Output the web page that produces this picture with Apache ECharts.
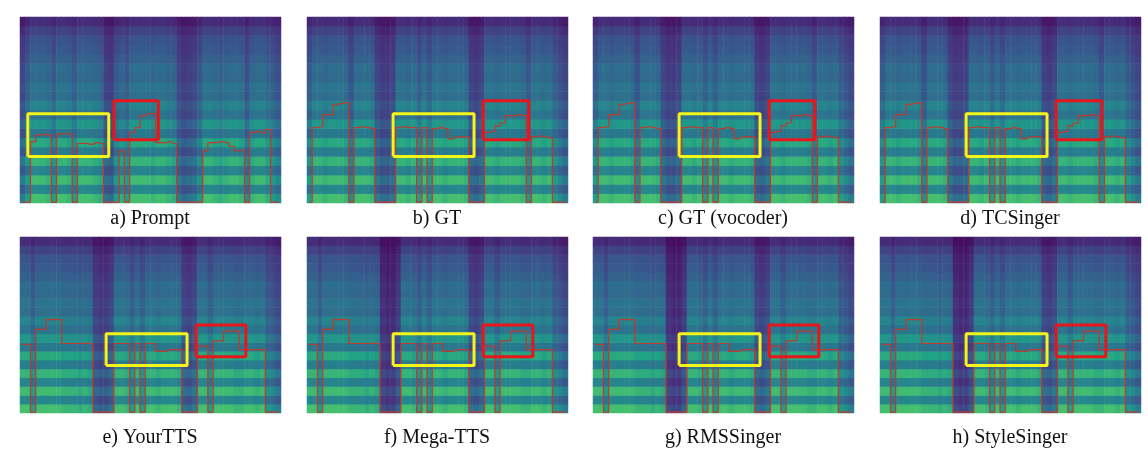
<!DOCTYPE html>
<html><head><meta charset="utf-8">
<script src="https://cdn.jsdelivr.net/npm/echarts@6/dist/echarts.min.js"></script>
<style>html,body{margin:0;background:#fff}#main{width:1148px;height:458px}</style>
</head><body><div id="main"></div>
<script>
// panel captions
var labels = ['a) Prompt', 'b) GT', 'c) GT (vocoder)', 'd) TCSinger', 'e) YourTTS', 'f) Mega-TTS', 'g) RMSSinger', 'h) StyleSinger'];
// spectral energy by frequency row, bottom -> top
var rowLevel = [0.9,0.6,0.88,0.58,0.84,0.55,0.78,0.52,0.68,0.5,0.58,0.47,0.5,0.44,0.46,0.4,0.36,0.34,0.26,0.16];
// per-column loudness (50 frames)
var colPrompt = [0.6,0.8,1,1,1,0.95,0.8,1,1,0.95,0.8,1,1,1,0.95,0.9,0.55,0.5,0.8,0.9,0.8,1,1,1,1,0.95,1,1,0.95,0.9,0.6,0.5,0.55,0.6,0.75,1,1,0.95,0.9,0.95,1,1,0.95,0.7,0.95,1,1,0.9,0.8,0.7];
var colGT = [0.8,1,1,0.95,1,1,1,0.95,0.7,1,1,1,0.95,0.6,0.5,0.5,0.55,1,1,0.95,1,0.8,1,0.8,1,1,0.95,1,1,1,0.95,0.55,0.5,0.6,1,1,0.95,1,1,1,1,0.95,0.75,1,1,0.95,1,0.8,0.7,0.6];
var colYour = [1,1,0.8,1,1,1,1,1,0.95,0.95,0.95,0.9,0.95,0.9,0.5,0.45,0.45,0.55,1,1,0.95,0.8,1,0.8,1,1,0.95,1,1,1,0.95,0.55,0.5,0.6,1,1,0.8,1,1,1,1,0.95,0.95,1,1,0.95,1,0.75,0.7,0.6];
var colMega = [1,1,0.8,1,1,1,1,1,0.95,0.95,0.95,0.9,0.95,0.9,0.35,0.3,0.3,0.45,1,1,0.95,0.8,1,0.8,1,1,0.95,1,1,1,0.95,0.55,0.5,0.6,1,1,0.8,1,1,1,1,0.95,0.95,1,1,0.95,1,0.75,0.7,0.6];
// F0 contours in frequency-row units (0 = unvoiced)
var f0Prompt = [0,0,6.5,7.2,7.3,7.2,0,7.3,7.4,7.3,0,6.3,6.3,6.2,6.4,6.3,0,0,0,5.5,0,7.5,8,9.3,9.5,9.5,6.4,6.4,6.5,6.3,0,0,0,0,0,5.5,6.4,6.4,6.5,6.4,6.0,5.5,5.6,0,7.5,7.6,7.4,7.8,0,0];
var f0GT = [0,8,8.1,9.4,9.4,10.5,10.6,10.7,0,8,8.1,8,7.9,0,0,0,0,8,8.1,8,8,0,8,0,7.9,8,7.9,6.8,7,7,7,0,0,0,7.5,7.6,8.2,8.5,9.3,9.3,9.4,9.3,0,7,7.1,7,6.9,0,0,0];
var f0Your = [7.7,7.7,0,9.4,9.4,10.5,10.5,10.5,7.8,7.8,7.8,7.8,7.8,7.8,0,0,0,0,7.8,7.8,7.8,0,7.8,0,7.8,7.8,6.9,6.9,7.1,7.1,7.1,0,0,0,7.5,7.5,0,8.1,8.1,9.2,9.2,9.2,7.1,7.1,7.1,7.1,7.1,0,0,0];
// boxes: [x0, x1, y0, y1] as panel fractions
var yellowBox = [[0.03,0.34,0.25,0.48],[0.33,0.64,0.25,0.48],[0.33,0.64,0.25,0.48],[0.33,0.64,0.25,0.48],[0.33,0.64,0.27,0.45],[0.33,0.64,0.27,0.45],[0.33,0.64,0.27,0.45],[0.33,0.64,0.27,0.45]];
var redBox = [[0.36,0.53,0.34,0.55],[0.675,0.85,0.34,0.55],[0.675,0.85,0.34,0.55],[0.675,0.85,0.34,0.55],[0.675,0.865,0.32,0.5],[0.675,0.865,0.32,0.5],[0.675,0.865,0.32,0.5],[0.675,0.865,0.32,0.5]];

var panelCols = [colPrompt, colGT, colGT, colGT, colYour, colMega, colMega, colMega];
var panelF0 = [f0Prompt, f0GT, f0GT, f0GT, f0Your, f0Your, f0Your, f0Your];
var lefts = [20, 307, 593, 880];

var myChart = echarts.init(document.getElementById('main'));
var grid = [], xAxis = [], yAxis = [], series = [], texts = [];
var cats = [], rows = [];
for (var i = 0; i < 50; i++) cats.push('c' + i);
for (var j = 0; j < 20; j++) rows.push('r' + j);

for (var p = 0; p < 8; p++) {
  var gTop = p < 4 ? 17 : 237, gH = p < 4 ? 186 : 176, gLeft = lefts[p % 4];
  var g = 2 * p;
  // grid g: spectrogram, grid g+1: F0 and boxes (same place)
  grid.push({left: gLeft, top: gTop, width: 261, height: gH});
  grid.push({left: gLeft, top: gTop, width: 261, height: gH});
  xAxis.push({type: 'category', data: cats, gridIndex: g, show: false});
  yAxis.push({type: 'category', data: rows, gridIndex: g, show: false});
  xAxis.push({type: 'value', min: 0, max: 1, gridIndex: g + 1, show: false});
  yAxis.push({type: 'value', min: 0, max: 1, gridIndex: g + 1, show: false});
  var heat = [];
  panelCols[p].forEach(function (c, x) {
    rowLevel.forEach(function (r, y) { heat.push([x, y, c * r]); });
  });
  series.push({type: 'heatmap', xAxisIndex: g, yAxisIndex: g, data: heat, silent: true});
  var line = panelF0[p].map(function (v, x) { return [(x + 0.5) / 50, v / 20 + 0.005]; });
  series.push({type: 'line', xAxisIndex: g + 1, yAxisIndex: g + 1, data: line, step: 'middle',
    symbol: 'none', lineStyle: {color: '#c0392b', width: 1.2}, silent: true});
  // highlight boxes
  [[yellowBox[p], '#f5f51a'], [redBox[p], '#e8161b']].forEach(function (b) {
    var r = b[0];
    series.push({type: 'line', xAxisIndex: g + 1, yAxisIndex: g + 1, symbol: 'none', silent: true,
      lineStyle: {color: b[1], width: 3},
      data: [[r[0], r[2]], [r[1], r[2]], [r[1], r[3]], [r[0], r[3]], [r[0], r[2]]]});
  });
  texts.push({type: 'text', x: gLeft + 130, y: p < 4 ? 209 : 428,
    style: {text: labels[p], align: 'center', font: '20px "Liberation Serif"', fill: '#111'}});
}

var heatIdx = [];
for (var k = 0; k < 8; k++) heatIdx.push(k * 4);

var option = {
  animation: false,
  graphic: texts,
  grid: grid, xAxis: xAxis, yAxis: yAxis,
  visualMap: {show: false, min: 0, max: 1.1, seriesIndex: heatIdx,
    inRange: {color: ['#440154', '#46337e', '#365c8d', '#277f8e', '#1fa187', '#4ac16d', '#a0da39']}},
  series: series
};
myChart.setOption(option);
</script></body></html>
